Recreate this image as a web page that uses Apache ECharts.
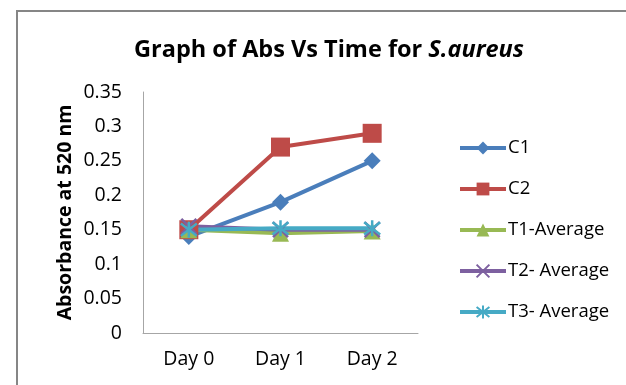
<!DOCTYPE html>
<html>
<head>
<meta charset="utf-8">
<script src="https://cdn.jsdelivr.net/npm/echarts@6/dist/echarts.min.js"></script>
<style>
  html, body { margin: 0; padding: 0; background: #fff; }
  #chart { width: 626px; height: 385px; }
</style>
</head>
<body>
<div id="chart"></div>
<script>
// Absorbance readings at 520 nm over three days
const days = ['Day 0', 'Day 1', 'Day 2'];
const c1 = [0.14, 0.19, 0.25];
const c2 = [0.15, 0.27, 0.29];
const t1Average = [0.15, 0.145, 0.148];
const t2Average = [0.155, 0.15, 0.15];
const t3Average = [0.15, 0.152, 0.152];
const yTicks = [0, 0.05, 0.1, 0.15, 0.2, 0.25, 0.3, 0.35];

const font = 'Open Sans, Lato, sans-serif';
const crossPath = 'path://M0,0L10,10M10,0L0,10';
const starPath = 'path://M0,0L10,10M10,0L0,10M5,-1.5L5,11.5';

function lineSeries(name, data, color, symbol, size, stroked) {
  return {
    name: name,
    type: 'line',
    data: data,
    symbol: symbol,
    symbolSize: size,
    lineStyle: { width: 4, color: color },
    itemStyle: stroked
      ? { color: 'rgba(0,0,0,0)', borderColor: color, borderWidth: 2.5 }
      : { color: color, borderColor: color, borderWidth: 0 },
    color: color,
    emphasis: { disabled: true },
    animation: false
  };
}

const chart = echarts.init(document.getElementById('chart'), null, { renderer: 'canvas' });
chart.setOption({
  backgroundColor: '#ffffff',
  animation: false,
  title: {
    text: 'Graph of Abs Vs Time for {i|S.aureus}',
    left: 324,
    textAlign: 'center',
    top: 33,
    textStyle: {
      fontFamily: font,
      fontSize: 23.5,
      fontWeight: 'bold',
      color: '#000',
      rich: {
        i: { fontFamily: font, fontSize: 23.5, fontWeight: 'bold', fontStyle: 'italic', color: '#000' }
      }
    }
  },
  legend: {
    orient: 'vertical',
    left: 453,
    top: 133,
    itemWidth: 46,
    itemHeight: 16,
    itemGap: 21,
    lineStyle: { width: 4 },
    textStyle: { fontFamily: font, fontSize: 18.5, lineHeight: 20, color: '#000', padding: [0, 0, 0, -3] },
    data: ['C1', 'C2', 'T1-Average', 'T2- Average', 'T3- Average']
  },
  grid: { left: 143, top: 92, width: 275, height: 241, containLabel: false },
  xAxis: {
    type: 'category',
    data: days,
    boundaryGap: true,
    axisLine: { lineStyle: { color: '#a6a6a6', width: 1 } },
    axisTick: { show: false },
    axisLabel: { fontFamily: font, fontSize: 19.5, color: '#000', margin: 16 }
  },
  yAxis: {
    type: 'value',
    min: yTicks[0],
    max: yTicks[yTicks.length - 1],
    interval: 0.05,
    name: 'Absorbance at 520 nm',
    nameLocation: 'middle',
    nameGap: 68,
    nameRotate: 90,
    nameTextStyle: { fontFamily: font, fontSize: 19.5, fontWeight: 'bold', color: '#000' },
    axisLine: { show: true, lineStyle: { color: '#a6a6a6', width: 1 } },
    axisTick: { show: false },
    splitLine: { show: false },
    axisLabel: {
      fontFamily: font, fontSize: 19.5, color: '#000', margin: 21,
      formatter: function (v) { return String(parseFloat(v.toFixed(2))); }
    }
  },
  series: [
    lineSeries('C1', c1, '#4a7ebb', 'diamond', 17, false),
    lineSeries('C2', c2, '#be4b48', 'rect', 19, false),
    lineSeries('T1-Average', t1Average, '#98b954', 'triangle', 17, false),
    lineSeries('T2- Average', t2Average, '#7d60a0', crossPath, 15, true),
    lineSeries('T3- Average', t3Average, '#46aac5', starPath, 16, true)
  ],
  graphic: [
    { type: 'line', shape: { x1: 17, y1: 11, x2: 17, y2: 385 }, style: { stroke: '#868686', lineWidth: 2 } },
    { type: 'line', shape: { x1: 16, y1: 11, x2: 626, y2: 11 }, style: { stroke: '#868686', lineWidth: 2 } }
  ]
});
</script>
</body>
</html>
